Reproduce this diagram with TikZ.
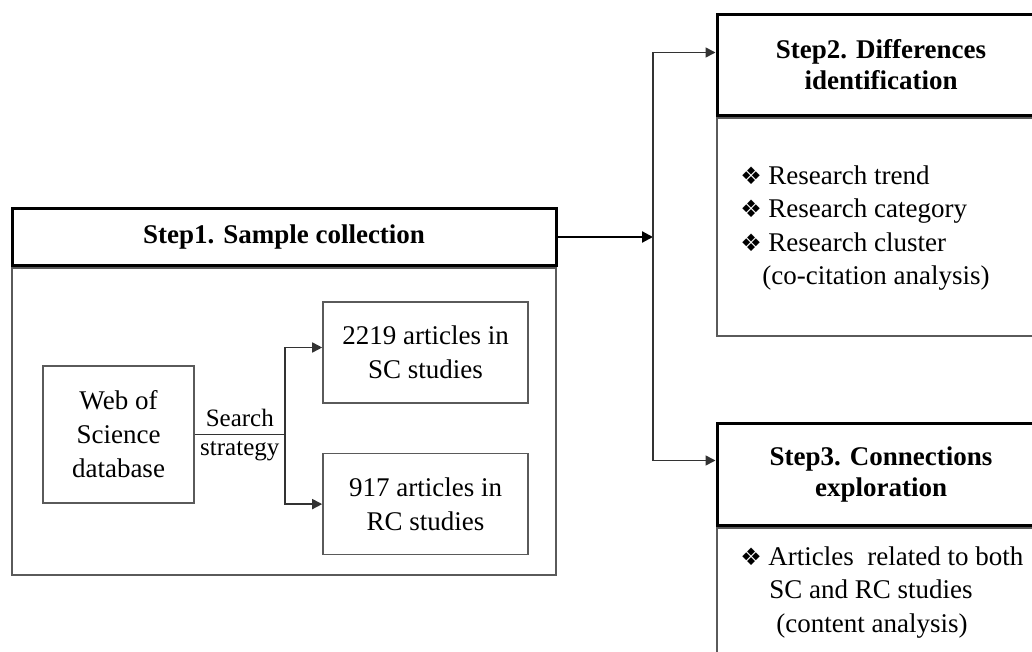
\documentclass[tikz,border=0pt]{standalone}
\usepackage{fontspec}
\setmainfont{Liberation Serif}
\newfontfamily\symfont{DejaVu Sans}
\usetikzlibrary{positioning,calc,arrows.meta}
\definecolor{LineGray}{HTML}{5A5A5A}
\newcommand{\bul}{\makebox[14pt][l]{\symfont\fontsize{12}{12}\selectfont ❖}}

\begin{document}
\begin{tikzpicture}[x=0.5pt,y=-0.5pt,
    every node/.style={font=\fontsize{13.5}{17}\selectfont},
    headbox/.style={draw=black,line width=1.5pt,align=center,inner sep=0pt,
      font=\bfseries\fontsize{13.5}{15.5}\selectfont},
    bodybox/.style={draw=LineGray,line width=0.8pt,inner sep=0pt},
    itembox/.style={draw=LineGray,line width=0.8pt,align=center,inner sep=0pt},
    listtext/.style={align=left,inner sep=0pt,
      font=\fontsize{13.5}{16.75}\selectfont},
    lbl/.style={inner sep=1pt,font=\fontsize{12.5}{14}\selectfont},
    arr/.style={draw=black!80,line width=0.8pt,-{Triangle[length=5pt,width=5pt]}},
    mainarr/.style={draw=black,line width=1.1pt,-{Triangle[length=5.5pt,width=5.5pt]}}]
  \useasboundingbox (0,0) rectangle (1032,652);
  \clip (0,0) rectangle (1032,652);

  % Step 1
  \node[bodybox,anchor=north,minimum width=272pt,minimum height=153.5pt] (s1body) at (284,267) {};
  \node[headbox,minimum width=272pt,minimum height=28.5pt,above=0pt of s1body] (s1head) {Step1. Sample collection};
  \node[itembox,minimum width=75.5pt,minimum height=68.5pt] (wos) at (118.5,434.5) {Web of\\Science\\database};
  \node[itembox,minimum width=102.5pt,minimum height=50.5pt] (sc) at (425.5,352.5) {2219 articles in\\SC studies};
  \node[itembox,minimum width=102.5pt,minimum height=50.5pt,below=24.5pt of sc] (rc) {917 articles in\\RC studies};

  % search strategy split
  \draw[draw=black!80,line width=0.8pt] (wos.east) -- ++(90,0) coordinate (split)
    node[lbl,midway,above=2.5pt] {Search}
    node[lbl,midway,below=2pt] {strategy};
  \draw[arr] (split) |- ([yshift=2.5pt]sc.west);
  \draw[arr] (split) |- (rc.west);

  % Step 2
  \node[bodybox,anchor=north,minimum width=164pt,minimum height=109pt] (s2body) at (881,117) {};
  \node[headbox,minimum width=164pt,minimum height=50.5pt,above=0pt of s2body] (s2head) {Step2. Differences\\identification};
  \node[listtext,anchor=north west] (s2list) at (740,165)
    {\bul Research trend\\\bul Research category\\\bul Research cluster\\\hspace*{11pt}(co-citation analysis)};

  % Step 3
  \node[bodybox,anchor=north,minimum width=164pt,minimum height=150pt] (s3body) at (881,527) {};
  \node[headbox,minimum width=164pt,minimum height=51pt,above=0pt of s3body] (s3head) {Step3. Connections\\exploration};
  \node[listtext,anchor=north west] (s3list) at (740,546)
    {\bul Articles\ \ related to both\\\hspace*{14.5pt}SC and RC studies\\\hspace*{18pt}(content analysis)};

  % connectors between steps
  \coordinate (hub) at (653,238.5);
  \draw[mainarr] (s1head.east) -- (s1head.east -| hub);
  \draw[arr] (hub) |- ([yshift=6.25pt]s2head.west);
  \draw[arr] (hub) |- ([yshift=7pt]s3head.west);
\end{tikzpicture}
\end{document}
